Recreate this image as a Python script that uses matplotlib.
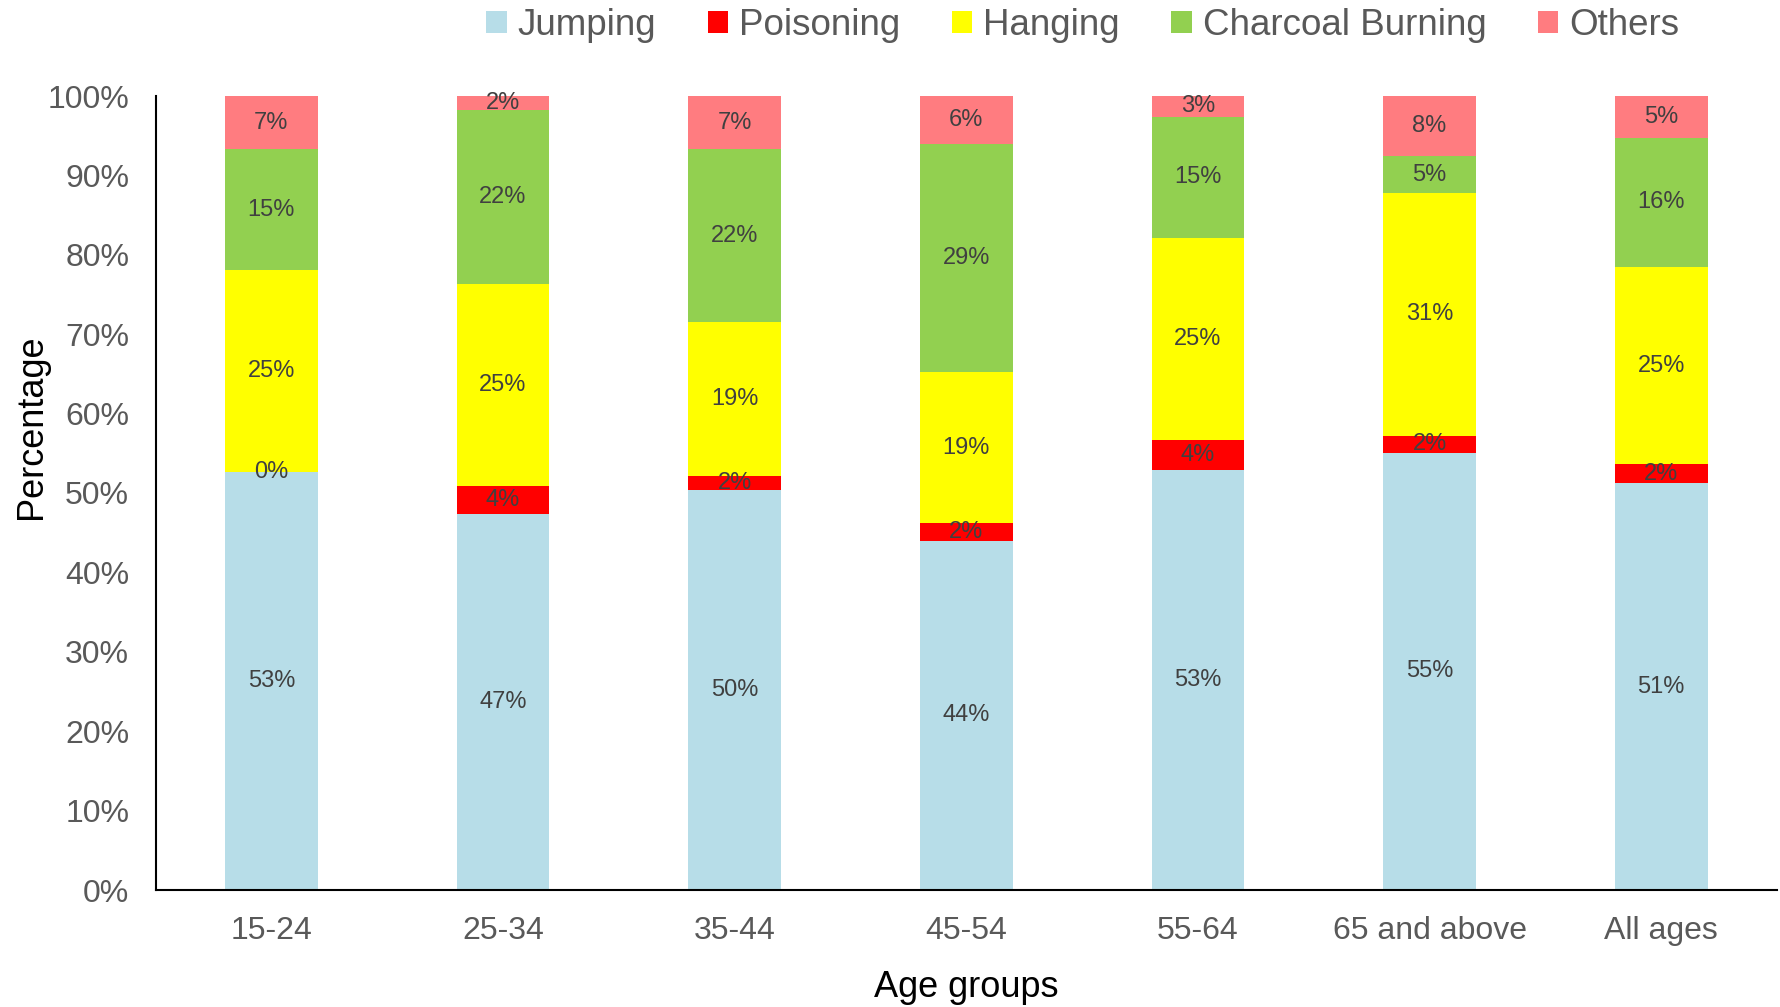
import numpy as np
import matplotlib.pyplot as plt

plt.rcParams['font.family'] = ['Liberation Sans', 'DejaVu Sans']

age_groups = ['15-24', '25-34', '35-44', '45-54', '55-64', '65 and above', 'All ages']
methods = ['Jumping', 'Poisoning', 'Hanging', 'Charcoal Burning', 'Others']
colors = ['#B7DDE8', '#FF0000', '#FFFF00', '#92D050', '#FF7C80']

# share of each method, in percent
jumping = [52.7, 47.3, 50.4, 44.0, 52.9, 55.1, 51.2]
poisoning = [0.0, 3.6, 1.7, 2.2, 3.8, 2.1, 2.4]
hanging = [25.4, 25.4, 19.4, 19.0, 25.4, 30.6, 24.9]
charcoal = [15.2, 21.9, 21.8, 28.8, 15.3, 4.6, 16.2]
others = [6.7, 1.8, 6.7, 6.0, 2.6, 7.6, 5.3]

series = [jumping, poisoning, hanging, charcoal, others]

fig = plt.figure(figsize=(17.81, 10.07), dpi=100)
ax = fig.add_axes([155.6 / 1781, 1 - 890 / 1007, (1777 - 155.6) / 1781, (890 - 96) / 1007])

x = np.arange(len(age_groups))
bottom = np.zeros(len(age_groups))
for name, vals, col in zip(methods, series, colors):
    vals = np.array(vals)
    ax.bar(x, vals, width=0.4, bottom=bottom, color=col, label=name)
    for xi, b, v in zip(x, bottom, vals):
        ax.text(xi, b + v / 2, f'{v:.0f}%', ha='center', va='center',
                fontsize=17, color='#404040')
    bottom += vals

ax.set_xlim(-0.5, len(age_groups) - 0.5)
ax.set_ylim(0, 100)
ax.set_yticks(np.arange(0, 101, 10))
ax.set_yticklabels([f'{t}%' for t in range(0, 101, 10)])
ax.set_xticks(x)
ax.set_xticklabels(age_groups)
ax.tick_params(axis='both', length=0, labelsize=23, colors='#595959')
ax.tick_params(axis='y', pad=19)
ax.tick_params(axis='x', pad=19)
for s in ['top', 'right']:
    ax.spines[s].set_visible(False)
for s in ['left', 'bottom']:
    ax.spines[s].set_color('black')
    ax.spines[s].set_linewidth(1.5)

ax.set_xlabel('Age groups', fontsize=26, labelpad=17)
ax.set_ylabel('Percentage', fontsize=26)
ax.yaxis.set_label_coords(-0.066, 0.584)

fig.legend(loc='upper center', bbox_to_anchor=(0.608, 1.025), ncol=5, frameon=False,
           fontsize=26.5, handlelength=0.55, handleheight=0.55, handletextpad=0.3,
           columnspacing=1.4, labelcolor='#595959')

fig.savefig('out.png', dpi=100)
